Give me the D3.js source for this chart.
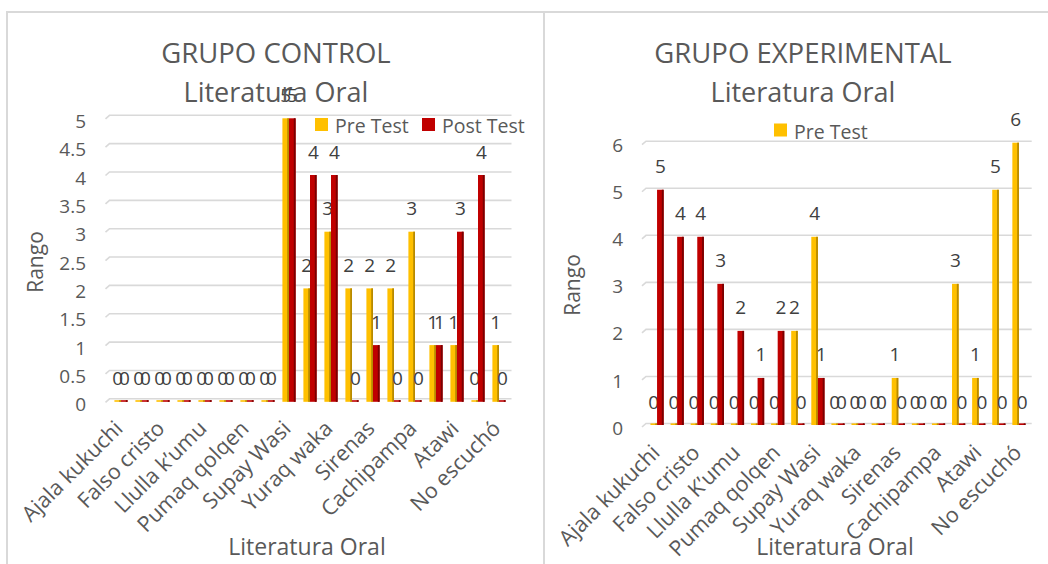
<!DOCTYPE html>
<html>
<head>
<meta charset="utf-8">
<script src="https://cdn.jsdelivr.net/npm/d3@7"></script>
<style>
  body { margin: 0; background: #ffffff; }
  svg { display: block; }
</style>
</head>
<body>
<div id="chart"></div>
<script>
// every other category name is hidden by the axis, as in the reference
const categoriesControl = ['Ajala kukuchi', '', 'Falso cristo', '', 'Llulla k\u2019umu', '', 'Pumaq qolqen', '', 'Supay Wasi', '',
  'Yuraq waka', '', 'Sirenas', '', 'Cachipampa', '', 'Atawi', '', 'No escuch\u00f3'];
const categoriesExp = ['Ajala kukuchi', '', 'Falso cristo', '', 'Llulla K\u2019umu', '', 'Pumaq qolqen', '', 'Supay Wasi', '',
  'Yuraq waka', '', 'Sirenas', '', 'Cachipampa', '', 'Atawi', '', 'No escuch\u00f3'];

const controlPre  = [0, 0, 0, 0, 0, 0, 0, 0, 5, 2, 3, 2, 2, 2, 3, 1, 1, 0, 1];
const controlPost = [0, 0, 0, 0, 0, 0, 0, 0, 5, 4, 4, 0, 1, 0, 0, 1, 3, 4, 0];
const expPre      = [0, 0, 0, 0, 0, 0, 0, 2, 4, 0, 0, 0, 1, 0, 0, 3, 1, 5, 6];
const expPost     = [5, 4, 4, 3, 2, 1, 2, 0, 1, 0, 0, 0, 0, 0, 0, 0, 0, 0, 0];

const ticksControl = [0, 0.5, 1, 1.5, 2, 2.5, 3, 3.5, 4, 4.5, 5];
const ticksExp = [0, 1, 2, 3, 4, 5, 6];

const seriesNames = ['Pre Test', 'Post Test'];
const seriesColors = ['#ffc000', '#c00000'];
const seriesSides = ['#b88a00', '#7a0000'];

const W = 1048, H = 564;
const FONT = '"Open Sans", "Noto Sans", sans-serif';
const TXT = '#595959';
const GRID = '#d9d9d9';

const svg = d3.select('#chart')
  .append('svg')
  .attr('width', W)
  .attr('height', H)
  .style('font-family', FONT);

// chart frames
svg.append('path')
  .attr('d', `M7,${H} V12 H${W} M544,12 V${H}`)
  .attr('fill', 'none')
  .attr('stroke', GRID)
  .attr('stroke-width', 2);

const drawChart = cfg => {
  const g = svg.append('g');
  const cats = cfg.categories;

  const x = d3.scaleBand()
    .domain(d3.range(cats.length))
    .range(cfg.xRange);
  const y = d3.scaleLinear()
    .domain([0, cfg.yMax])
    .range([cfg.base, cfg.top]);

  // gridlines on the back wall, with the little side-wall bend at the left
  g.append('g')
    .selectAll('path')
    .data(cfg.ticks)
    .enter()
    .append('path')
    .attr('d', d => {
      const yy = y(d) - cfg.gridOff;
      return `M${cfg.gridX[0] - 3},${yy + 3.5} L${cfg.gridX[0] + 1},${yy} L${cfg.gridX[1]},${yy}`;
    })
    .attr('fill', 'none')
    .attr('stroke', GRID)
    .attr('stroke-width', 1.6);

  // y tick labels
  const yAxis = g.append('g')
    .attr('transform', `translate(${cfg.tickRight},3)`)
    .call(d3.axisLeft(y).tickValues(cfg.ticks).tickSize(0).tickPadding(0).tickFormat(d => String(d)));
  yAxis.select('.domain').remove();
  yAxis.selectAll('text')
    .style('font-family', FONT)
    .style('font-size', '19px')
    .attr('fill', TXT);

  // x tick labels, rotated
  const xAxis = g.append('g')
    .attr('transform', `translate(0,${cfg.base})`)
    .call(d3.axisBottom(x).tickSize(0).tickFormat(i => cats[i]));
  xAxis.select('.domain').remove();
  xAxis.selectAll('text')
    .attr('x', 0)
    .attr('y', 0)
    .attr('dy', 0)
    .attr('text-anchor', 'end')
    .attr('transform', `translate(${cfg.labelShift[0]},${cfg.labelShift[1]}) rotate(-45)`)
    .style('font-family', FONT)
    .style('font-size', '21.5px')
    .attr('fill', TXT);

  // bars (3D-ish columns: front face plus a darker side strip)
  const bw = 6.6;
  const series = [cfg.pre, cfg.post];
  series.forEach((vals, s) => {
    const bars = g.append('g')
      .selectAll('g')
      .data(vals)
      .enter()
      .append('g')
      .attr('transform', (d, i) => `translate(${x(i) + x.bandwidth() / 2 + (s === 0 ? -bw : 0)},0)`);
    bars.append('rect')
      .attr('x', 0)
      .attr('y', d => Math.min(y(d), cfg.base - 1.6))
      .attr('width', bw)
      .attr('height', d => Math.max(cfg.base - y(d), 1.6))
      .attr('fill', seriesColors[s]);
    bars.append('rect')
      .attr('x', bw - 1.8)
      .attr('y', d => Math.min(y(d), cfg.base - 1.6))
      .attr('width', 1.8)
      .attr('height', d => Math.max(cfg.base - y(d), 1.6))
      .attr('fill', seriesSides[s]);
    bars.append('text')
      .attr('x', bw / 2)
      .attr('y', d => y(d) - 16.5)
      .attr('text-anchor', 'middle')
      .style('font-size', '19px')
      .attr('fill', '#404040')
      .text(d => d);
  });

  // titles
  g.append('text')
    .attr('x', cfg.cx)
    .attr('y', 63)
    .attr('text-anchor', 'middle')
    .style('font-size', '27.5px')
    .attr('fill', TXT)
    .text(cfg.title);
  g.append('text')
    .attr('x', cfg.cx)
    .attr('y', 102)
    .attr('text-anchor', 'middle')
    .style('font-size', '27px')
    .attr('fill', TXT)
    .text('Literatura Oral');

  // axis titles
  g.append('text')
    .attr('transform', `translate(${cfg.rango[0]},${cfg.rango[1]}) rotate(-90)`)
    .attr('text-anchor', 'middle')
    .attr('dominant-baseline', 'central')
    .style('font-size', '21px')
    .attr('fill', TXT)
    .text('Rango');
  g.append('text')
    .attr('x', cfg.xTitle)
    .attr('y', 555)
    .attr('text-anchor', 'middle')
    .style('font-size', '23px')
    .attr('fill', TXT)
    .text('Literatura Oral');

  // legend
  cfg.legend.forEach(item => {
    g.append('rect')
      .attr('x', item.x)
      .attr('y', item.y - 15)
      .attr('width', 13)
      .attr('height', 13)
      .attr('fill', seriesColors[item.s]);
    g.append('text')
      .attr('x', item.x + 20)
      .attr('y', item.y)
      .style('font-size', '19.5px')
      .attr('fill', TXT)
      .text(seriesNames[item.s]);
  });
};

drawChart({
  title: 'GRUPO CONTROL',
  categories: categoriesControl,
  pre: controlPre,
  post: controlPost,
  ticks: ticksControl,
  yMax: 5,
  base: 401.8,
  top: 118.3,
  gridOff: 3,
  xRange: [110.5, 509.5],
  gridX: [108.5, 511.5],
  tickRight: 86,
  labelShift: [3, 28],
  cx: 276,
  rango: [35, 262],
  xTitle: 307,
  legend: [{ s: 0, x: 315, y: 133 }, { s: 1, x: 422, y: 133 }]
});

drawChart({
  title: 'GRUPO EXPERIMENTAL',
  categories: categoriesExp,
  pre: expPre,
  post: expPost,
  ticks: ticksExp,
  yMax: 6,
  base: 425,
  top: 142.7,
  gridOff: 1.5,
  xRange: [647, 1029],
  gridX: [645, 1031.7],
  tickRight: 623,
  labelShift: [4, 29],
  cx: 803,
  rango: [572, 285],
  xTitle: 835,
  legend: [{ s: 0, x: 774, y: 138.5 }]
});
</script>
</body>
</html>
